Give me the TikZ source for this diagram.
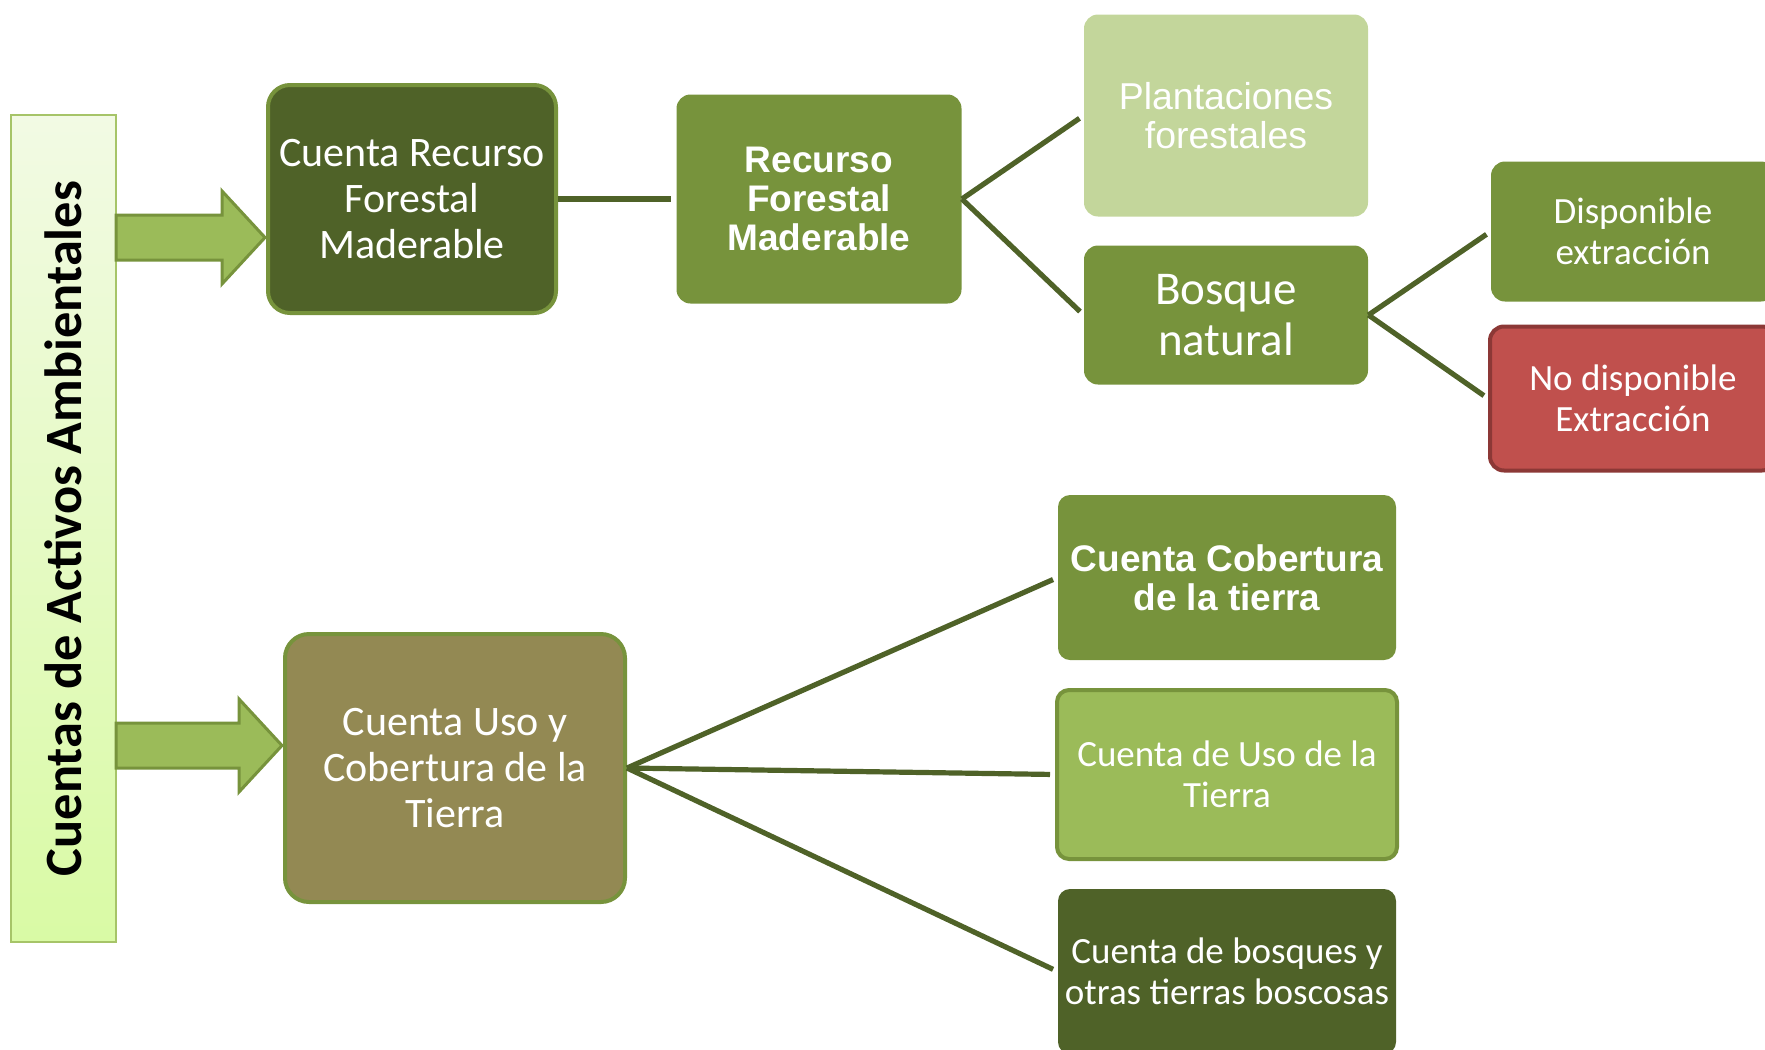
\documentclass[tikz,border=0pt]{standalone}
\usepackage{fontspec}
\setmainfont{Carlito}
\newfontfamily\arialfont{Liberation Sans}
\definecolor{darkolive}{HTML}{4F6228}
\definecolor{leafgreen}{HTML}{77933C}
\definecolor{lightleaf}{HTML}{9BBB59}
\definecolor{paleleaf}{HTML}{C3D69B}
\definecolor{khaki}{HTML}{938953}
\definecolor{brick}{HTML}{C0504D}
\definecolor{brickedge}{HTML}{8C3836}
\definecolor{baredge}{HTML}{A6C468}
\definecolor{bartop}{HTML}{F2FAE4}
\definecolor{barbottom}{HTML}{D9FAA5}
\begin{document}
\begin{tikzpicture}[x=0.5pt,y=-0.5pt,node distance=203.5pt,
  box/.style={rectangle,rounded corners=7pt,align=center,text=white,inner sep=2pt},
  calfont/.style={font=\fontsize{18.5}{20.5}\selectfont},
  bigfont/.style={font=\fontsize{21}{23}\selectfont},
  boldfont/.style={font=\arialfont\bfseries\fontsize{18.5}{19.5}\selectfont},
  fatarrow/.style={fill=lightleaf,draw=leafgreen,line width=1.5pt,line join=miter},
  link/.style={color=darkolive,line width=2.6pt,shorten >=2.5pt}]
\useasboundingbox (0,0) rectangle (1765,1049);
\node[draw=baredge,line width=1pt,top color=bartop,bottom color=barbottom,
      minimum width=52.5pt,minimum height=413.5pt,inner sep=0pt,
      font=\bfseries\fontsize{26.2}{28}\selectfont]
      (bar) at (63.5,528.5) {\rotatebox{90}{Cuentas de Activos Ambientales}};
% forest resource branch
\node[box,bigfont,rounded corners=11pt,fill=darkolive,draw=leafgreen,line width=2pt,
      minimum width=144pt,minimum height=114pt] (forest) at (412,199)
      {Cuenta Recurso\\Forestal\\Maderable};
\node[box,boldfont,fill=leafgreen,minimum width=142.5pt,minimum height=104.5pt]
      (resource) [right of=forest] {Recurso\\Forestal\\Maderable};
\node[box,fill=paleleaf,minimum width=142pt,minimum height=101pt,
      font=\arialfont\fontsize{18.7}{19.5}\selectfont]
      (plant) [right of=resource, yshift=41.75pt] {Plantaciones\\forestales};
\node[box,fill=leafgreen,minimum width=142pt,minimum height=69.5pt,
      font=\fontsize{23.5}{25.5}\selectfont]
      (natural) [right of=resource, yshift=-58pt] {Bosque\\natural};
\node[box,calfont,fill=leafgreen,minimum width=142pt,minimum height=70pt]
      (avail) [right of=natural, yshift=41.75pt] {Disponible\\extracción};
\node[box,calfont,fill=brick,draw=brickedge,line width=2pt,minimum width=143pt,minimum height=72pt]
      (noavail) [right of=natural, yshift=-41.75pt] {No disponible\\Extracción};
% land use branch
\node[box,bigfont,rounded corners=12pt,fill=khaki,draw=leafgreen,line width=2pt,
      minimum width=170pt,minimum height=134pt] (landuse) at (455,768)
      {Cuenta Uso y\\Cobertura de la\\Tierra};
\node[box,boldfont,rounded corners=6pt,fill=leafgreen,minimum width=169pt,minimum height=82.5pt]
      (cover) [right of=landuse, xshift=182.5pt, yshift=95.25pt] {Cuenta Cobertura\\de la tierra};
\node[box,calfont,rounded corners=6pt,fill=lightleaf,draw=leafgreen,line width=2pt,
      minimum width=170pt,minimum height=84.5pt]
      (use) [right of=landuse, xshift=182.5pt, yshift=-3.25pt] {Cuenta de Uso de la\\Tierra};
\node[box,calfont,rounded corners=6pt,fill=darkolive,minimum width=169pt,minimum height=82.5pt]
      (woods) [right of=landuse, xshift=182.5pt, yshift=-101.75pt]
      {Cuenta de bosques y\\otras tierras boscosas};
% block arrows from the bar
\foreach \ay/\tx in {237.5/265,745.5/282}
  \draw[fatarrow] (116,\ay-22.5) -- (\tx-43,\ay-22.5) -- (\tx-43,\ay-46.5) -- (\tx,\ay)
    -- (\tx-43,\ay+46.5) -- (\tx-43,\ay+22.5) -- (116,\ay+22.5) -- cycle;
\path[link] (forest) edge (resource)
      (resource.east) edge (plant.west)
                      edge (natural.west)
      (natural.east)  edge (avail.west)
                      edge (noavail.west)
      (landuse.east)  edge (cover.west)
                      edge (use.west)
                      edge (woods.west);
\end{tikzpicture}
\end{document}
